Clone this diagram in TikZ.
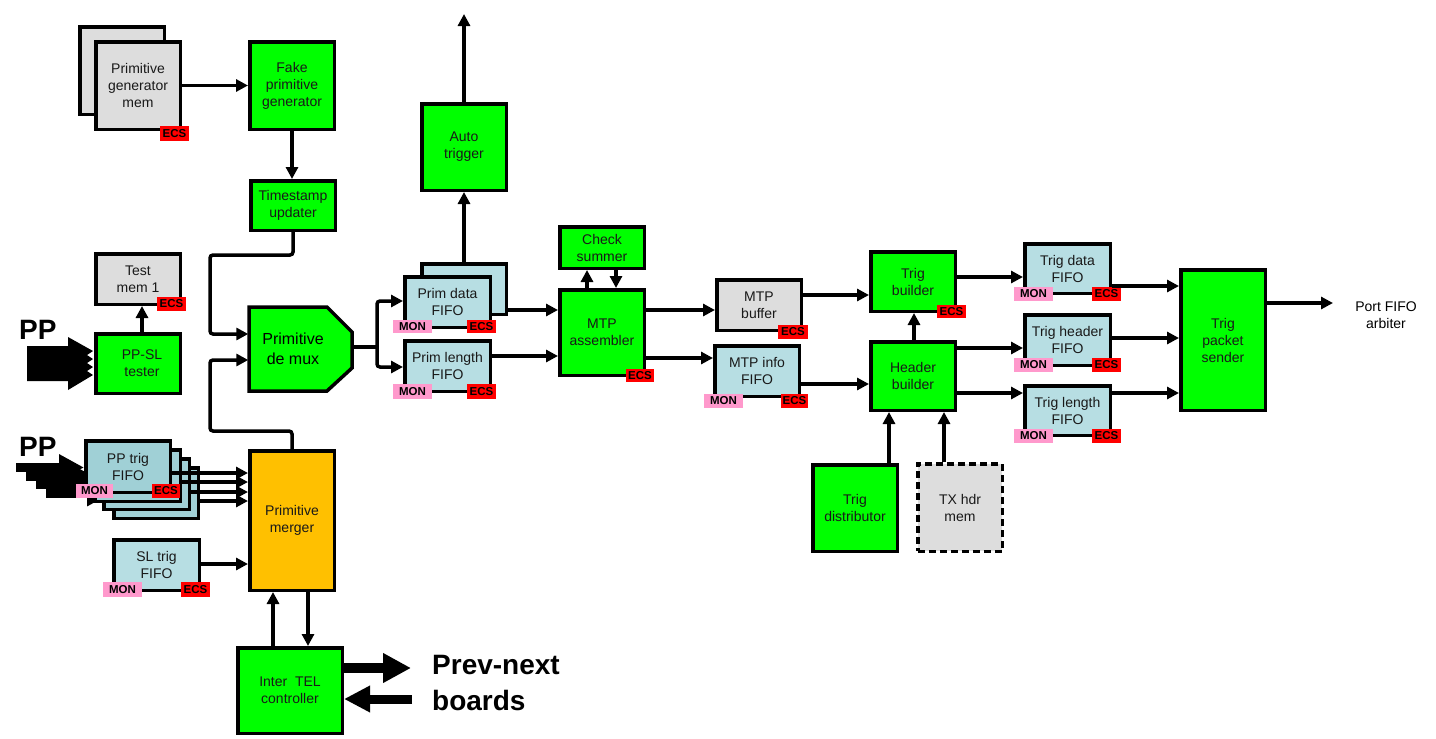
\documentclass[tikz,border=0pt]{standalone}
\usepackage{fontspec}
\setmainfont{Liberation Sans}
\usetikzlibrary{arrows.meta,calc}
\definecolor{bgreen}{HTML}{00FF00}
\definecolor{bgray}{HTML}{DDDDDD}
\definecolor{bblue}{HTML}{B7DEE3}
\definecolor{bteal}{HTML}{A0D0D6}
\definecolor{borange}{HTML}{FFC000}
\definecolor{tpink}{HTML}{FF99CC}
\definecolor{tred}{HTML}{FF0000}
\newcommand\placebox[7]{%
  \pgfmathsetmacro\pbx{(#3+#5)/2}\pgfmathsetmacro\pby{(#4+#6)/2}%
  \pgfmathsetmacro\pbw{#5-#3-3.5}\pgfmathsetmacro\pbh{#6-#4-3.5}%
  \node[#2,minimum width=\pbw pt,minimum height=\pbh pt] (#1) at (\pbx,\pby) {#7};}
\newcommand\placetag[7]{%
  \pgfmathsetmacro\pbx{(#3+#5)/2}\pgfmathsetmacro\pby{(#4+#6)/2}%
  \pgfmathsetmacro\pbw{#5-#3}\pgfmathsetmacro\pbh{#6-#4}%
  \node[#2,minimum width=\pbw pt,minimum height=\pbh pt] (#1) at (\pbx,\pby) {#7};}
\begin{document}
\begin{tikzpicture}[x=1pt,y=-1pt,
  blk/.style={draw=black, line width=3.5pt, align=center, inner sep=0pt,
    text=black!90, font=\fontsize{14}{17}\selectfont},
  gbox/.style={blk, fill=bgreen},
  graybox/.style={blk, fill=bgray},
  fbox/.style={blk, fill=bblue},
  tbox/.style={blk, fill=bteal},
  obox/.style={blk, fill=borange},
  tagbase/.style={inner sep=0pt, font=\bfseries\fontsize{11.5}{12}\selectfont, text=black},
  ecs/.style={tagbase, fill=tred},
  mon/.style={tagbase, fill=tpink},
  arr/.style={line width=3.5pt, -{Triangle[length=12pt,width=12pt]}},
  ln/.style={line width=3.5pt},
  rc/.style={rounded corners=3pt},
  fat/.style={line width=9pt, -{Triangle[length=25pt,width=25pt]}},
  big/.style={font=\bfseries\fontsize{28}{36}\selectfont, inner sep=0pt, align=left, anchor=north west}
]
\useasboundingbox (0,0) rectangle (1436,739);

% ---------- PP inputs (drawn first, under boxes) ----------
\node[big] (pp1) at (19,320) {PP};
\fill (27,346)--(68,346)--(68,337)--(93,351)--(87,355)--(93,359)--(87,363)--(93,367)--(87,371)--(93,375)--(68,390)--(68,381)--(27,381)--cycle;
\node[big] (pp2) at (19,437) {PP};

% PP trig FIFO stack
\placebox{ppf4}{tbox}{112}{466}{200}{520}{}
\placebox{ppf3}{tbox}{102}{457}{191}{511}{}
\placebox{ppf2}{tbox}{93}{448}{182}{503}{}
\placebox{ppf}{tbox}{84}{439}{172}{494}{PP trig\\FIFO}
\coordinate (pps1) at (16,467.5);
\coordinate (pps2) at (26,476);
\coordinate (pps3) at (36,484.5);
\coordinate (pps4) at (46,493);
\draw[fat] (pps4) -- (ppf4.west |- pps4);
\draw[fat] (pps3) -- (ppf3.west |- pps3);
\draw[fat] (pps2) -- (ppf2.west |- pps2);
\draw[fat] (pps1) -- (ppf.west |- pps1);
% redraw stack over the arrow heads
\placebox{ppf4}{tbox}{112}{466}{200}{520}{}
\placebox{ppf3}{tbox}{102}{457}{191}{511}{}
\placebox{ppf2}{tbox}{93}{448}{182}{503}{}
\placebox{ppf}{tbox}{84}{439}{172}{494}{PP trig\\FIFO}
\placetag{ppfm}{mon}{76}{484}{113}{498}{MON}
\placetag{ppfe}{ecs}{152}{484}{180}{498}{ECS}

% ---------- left column ----------
\placebox{pgmb}{graybox}{78}{25}{166}{116}{}
\placebox{pgm}{graybox}{94}{40}{182}{131}{Primitive\\generator\\mem}
\placetag{pgme}{ecs}{160}{126}{189}{141}{ECS}
\placebox{fake}{gbox}{248}{40}{336}{131}{Fake\\primitive\\generator}
\placebox{ts}{gbox}{249}{179}{337}{232}{Timestamp\\updater}
\placebox{test}{graybox}{94}{252}{182}{306}{Test\\mem 1}
\placetag{teste}{ecs}{157}{297}{186}{311}{ECS}
\placebox{ppsl}{gbox}{94}{332}{182}{395}{\hspace*{8pt}PP-SL\\\hspace*{8pt}tester}

% Primitive de mux (chamfered)
\draw[line width=3.5pt, fill=bgreen] (249,307) -- (327,307) -- (352,332) -- (352,368) -- (327,391) -- (249,391) -- cycle;
\node[minimum width=103pt, minimum height=84pt, inner sep=0pt] (demux) at (300,349) {};
\node[font=\fontsize{16}{20}\selectfont, align=center, inner sep=0pt] (demuxt) at (293,349) {Primitive\\de mux};

\placebox{merger}{obox}{248}{449}{336}{592}{Primitive\\merger}
\placebox{sl}{fbox}{112}{538}{201}{592}{SL trig\\FIFO}
\placetag{slm}{mon}{103}{582}{142}{597}{MON}
\placetag{sle}{ecs}{181}{582}{210}{597}{ECS}
\placebox{itc}{gbox}{236}{646}{344}{735}{Inter\ \ TEL\\controller}

% ---------- middle ----------
\placebox{auto}{gbox}{420}{102}{508}{192}{Auto\\trigger}
\placebox{pdfb}{fbox}{420}{262}{508}{316}{}
\placebox{pdf}{fbox}{403}{275}{492}{329}{Prim data\\FIFO}
\placetag{pdfm}{mon}{393}{320}{432}{333}{MON}
\placetag{pdfe}{ecs}{467}{320}{496}{333}{ECS}
\placebox{plf}{fbox}{403}{339}{492}{393}{Prim length\\FIFO}
\placetag{plfm}{mon}{393}{384}{432}{399}{MON}
\placetag{plfe}{ecs}{467}{384}{496}{399}{ECS}
\placebox{check}{gbox}{558}{225}{646}{270}{Check\\summer}
\placebox{mtp}{gbox}{558}{288}{646}{377}{MTP\\assembler}
\placetag{mtpe}{ecs}{626}{369}{654}{382}{ECS}
\placebox{buf}{graybox}{715}{278}{803}{332}{MTP\\buffer}
\placetag{bufe}{ecs}{778}{325}{808}{339}{ECS}
\placebox{info}{fbox}{713}{344}{801}{398}{MTP info\\FIFO}
\placetag{infom}{mon}{704}{394}{743}{408}{MON}
\placetag{infoe}{ecs}{781}{394}{808}{408}{ECS}

% ---------- right ----------
\placebox{tb}{gbox}{869}{250}{957}{313}{Trig\\builder}
\placetag{tbe}{ecs}{937}{305}{966}{318}{ECS}
\placebox{hb}{gbox}{869}{340}{957}{412}{Header\\builder}
\placebox{td}{gbox}{811}{463}{899}{553}{Trig\\distributor}
\placebox{tx}{graybox, dashed, dash pattern=on 7pt off 4pt}{916}{462}{1004}{553}{TX hdr\\mem}
\placebox{tdf}{fbox}{1023}{242}{1112}{295}{Trig data\\FIFO}
\placetag{tdfm}{mon}{1014}{287}{1053}{301}{MON}
\placetag{tdfe}{ecs}{1092}{287}{1121}{301}{ECS}
\placebox{thf}{fbox}{1023}{313}{1112}{367}{Trig header\\FIFO}
\placetag{thfm}{mon}{1014}{358}{1053}{372}{MON}
\placetag{thfe}{ecs}{1092}{358}{1121}{372}{ECS}
\placebox{tlf}{fbox}{1023}{384}{1112}{437}{Trig length\\FIFO}
\placetag{tlfm}{mon}{1014}{429}{1053}{443}{MON}
\placetag{tlfe}{ecs}{1092}{429}{1121}{443}{ECS}
\placebox{tps}{gbox}{1179}{268}{1267}{412}{Trig\\packet\\sender}
\node[font=\fontsize{14}{17}\selectfont, align=center, inner sep=0pt] (arb) at (1386,315) {Port FIFO\\arbiter};
\coordinate (arbin) at (1333,303);

% ---------- connectors ----------
\draw[arr] (pgm) -- (fake);
\draw[arr] (fake.south) -- (fake.south |- ts.north);
\draw[arr] ([xshift=4pt]ppsl.north) -- ([xshift=4pt]ppsl.north |- test.south);
\draw[arr, rc] (ts.south) -- (ts.south |- 0,255) -| (210,334) -- (demux.west |- 0,334);
\draw[arr, rc] (merger.north) -- (merger.north |- 0,431) -| (210,360) -- (demux.west |- 0,360);
\coordinate (split) at (377,347);
\draw[ln] (demux.east |- split) -- (split);
\draw[arr, rc] (split) |- (pdf.west |- 0,301);
\draw[arr, rc] (split) |- (plf.west |- 0,367);
\draw[arr] (pdfb.north) -- (auto.south);
\coordinate (autoout) at (464,14);
\draw[arr] (auto.north) -- (autoout);
\draw[arr] (pdfb.east |- 0,310) -- (mtp.west |- 0,310);
\draw[arr] (plf.east |- 0,356) -- (mtp.west |- 0,356);
\draw[arr] (mtp.north -| 587,0) -- (check.south -| 587,0);
\draw[arr] (check.south -| 616,0) -- (mtp.north -| 616,0);
\draw[arr] (mtp.east |- 0,310) -- (buf.west |- 0,310);
\draw[arr] (mtp.east |- 0,358) -- (info.west |- 0,358);
\draw[arr] (buf.east |- 0,295) -- (tb.west |- 0,295);
\draw[arr] (info.east |- 0,384) -- (hb.west |- 0,384);
\draw[arr] (hb.north -| 914,0) -- (tb.south -| 914,0);
\draw[arr] (td.north -| 889,0) -- (hb.south -| 889,0);
\draw[arr] (tx.north -| 944,0) -- (hb.south -| 944,0);
\draw[arr] (tb.east |- 0,277) -- (tdf.west |- 0,277);
\draw[arr] (hb.east |- 0,348) -- (thf.west |- 0,348);
\draw[arr] (hb.east |- 0,393) -- (tlf.west |- 0,393);
\draw[arr] (tdf.east |- 0,286) -- (tps.west |- 0,286);
\draw[arr] (thf.east |- 0,338) -- (tps.west |- 0,338);
\draw[arr] (tlf.east |- 0,393) -- (tps.west |- 0,393);
\draw[arr] (tps.east |- arbin) -- (arbin);

\draw[arr] (ppf.east |- 0,473) -- (merger.west |- 0,473);
\draw[arr] (ppf2.east |- 0,482) -- (merger.west |- 0,482);
\draw[arr] (ppf3.east |- 0,492) -- (merger.west |- 0,492);
\draw[arr] (ppf4.east |- 0,501) -- (merger.west |- 0,501);
\draw[arr] (sl.east |- 0,564) -- (merger.west |- 0,564);
\draw[arr] (itc.north -| 273,0) -- (merger.south -| 273,0);
\draw[arr] (merger.south -| 308,0) -- (itc.north -| 308,0);

% Prev-next boards
\coordinate (pnout) at (411,668);
\coordinate (pnin) at (412,699);
\draw[line width=10pt, -{Triangle[length=28pt,width=28pt]}] (itc.east |- pnout) -- (pnout);
\draw[line width=9pt, -{Triangle[length=26pt,width=25pt]}] (pnin) -- (itc.east |- pnin);
\node[big] (pn) at (432,655) {Prev-next\\boards};
\end{tikzpicture}
\end{document}
